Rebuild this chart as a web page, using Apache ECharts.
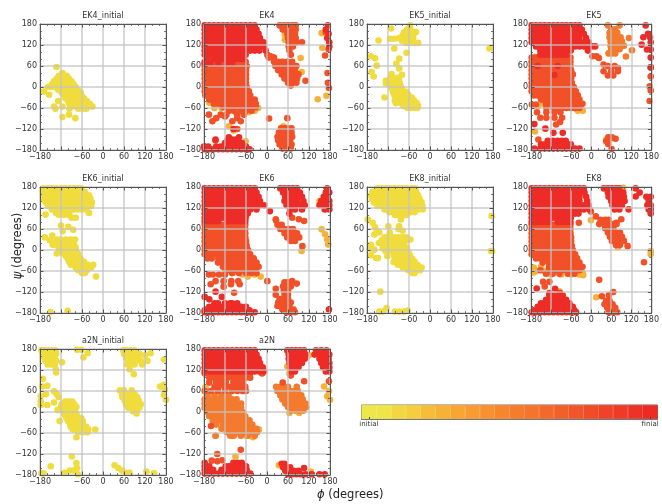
<!DOCTYPE html>
<html><head><meta charset="utf-8">
<style>html,body{margin:0;padding:0;background:#fff}#c{width:662px;height:504px}</style>
<script src="https://cdn.jsdelivr.net/npm/echarts@6/dist/echarts.min.js"></script>
</head><body><div id="c"></div>
<script>
// Every row is [psi, phi, phi, ...].
const tickValues=[-180,-120,-60,0,60,120,180];
const stageColors=['#EDE84A','#EFE646','#F2D840','#F4CE3D','#F5BE39','#F6B236','#F7A633','#F89C31','#F8902F','#F6862E','#F67C2D','#F5742C','#F3692B','#F2602A','#F15629','#F04C28','#EF4228','#EE3A27','#EE3227','#EE2A26'];

const ek4Initial=[[57,-133],[40,-116],[32,-126,-114,-104],[24,-132,-120,-108,-98],[16,-140,-128,-116,-104,-94,-90],[8,-146,-134,-122,-110,-98,-88,-84],[0,-158,-150,-136,-124,-112,-100,-88,-78],[-8,-128,-116,-104,-92,-80,-72],[-13,-169],[-16,-118,-106,-94,-82,-70,-64],[-22,-154],[-24,-110,-98,-86,-74,-62],[-32,-108,-96,-84,-72,-60,-54],[-40,-128,-100,-88,-76,-64,-52,-46],[-48,-96,-84,-72,-60,-48,-38],[-56,-140,-116,-92,-78,-66,-54,-42,-30],[-62,-136,-96,-70,-58,-48],[-79,-97],[-86,-116],[-89,-79]];
const ek5Initial=[[176,-57],[167,-111],[164,-66,-56],[157,-40],[156,-74,-64,-54,-42],[148,-78,-68,-58,-50],[140,-88,-78,-68,-58,-48],[138,-114,-102],[133,-147],[132,-80,-70,-60,-50],[126,-68,-56,-44,-34],[110,-102,170],[98,-67],[88,-169],[82,-157],[81,-88],[66,-96],[61,-152],[53,-88],[43,-167],[37,-110],[35,-80],[30,-161],[26,-112,-102,-92],[18,-126,-116,-106,-96,-88],[10,-126,-114,-104,-94,-86],[2,-112,-102,-92,-84],[-6,-108,-98,-88,-80],[-14,-106,-96,-86,-76,-68],[-22,-102,-92,-82,-72,-62],[-30,-130,-98,-88,-78,-68,-58,-52],[-38,-100,-84,-74,-64,-54,-46],[-46,-98,-84,-74,-64,-54,-44,-38],[-54,-76,-66,-56,-46,-34],[-60,-64,-54,-44,-36]];
const ek6Initial=[[176,-170,-158,-146,-134,-120,-108,-96,-84,-72,-62],[166,-172,-160,-148,-136,-124,-112,-100,-88,-76,-64,-52],[156,-170,-158,-146,-134,-122,-110,-98,-86,-74,-62,-50,-40],[146,-168,-156,-144,-132,-120,-108,-96,-84,-72,-60,-48,-36],[136,-164,-152,-140,-128,-116,-104,-92,-80,-68,-56,-44,-32],[126,-156,-144,-132,-120,-108,-96,-84,-72,-60,-48,-34],[116,-146,-134,-122,-110,-98,-84,-72,-60,-48],[106,-134,-122,-110,-96,-40],[101,-164,-126,-112,-100],[92,-90,-78],[70,-120],[66,-99],[58,-85],[54,-115],[41,-145],[36,-166],[30,-132,-120,-106,-92,-80],[28,-151],[22,-134,-122,-110,-98,-86],[15,-144],[14,-136,-124,-112,-100,-88,-82],[6,-126,-114,-102,-90,-78],[-2,-124,-112,-100,-88,-78],[-10,-132,-114,-102,-90,-78,-72],[-18,-106,-94,-82,-70],[-26,-100,-88,-76,-64],[-34,-96,-84,-72,-60,-54],[-42,-92,-80,-68,-56,-44,-28],[-50,-78,-66,-54,-42,-34],[-58,-70,-58,-46],[-66,-60,-52],[-76,-20],[-174,-101],[-177,-150]];
const ek8Initial=[[176,-150,-138,-126,-114,-102,-90,-78,-66,-52,-42],[166,-164,-152,-140,-128,-116,-104,-92,-80,-68,-56,-40],[156,-168,-156,-144,-132,-120,-108,-96,-84,-72,-60,-46,-34],[146,-166,-154,-142,-130,-118,-106,-94,-82,-70,-58,-44,-30],[136,-160,-148,-136,-124,-112,-100,-88,-76,-64,-52,-38,-24],[126,-150,-138,-126,-114,-102,-90,-78,-66,-54,-40,-22],[116,-130,-118,-106,-94,-82,-70,-58,-46,-34,-21],[108,-116,-104,-92,-80,-68,-56,-44],[100,-100,-90,-78,-68],[97,176],[87,-178,-83],[78,-164],[68,-119,-88],[65,-157],[60,-90],[55,-152,-78],[50,-145],[49,-115],[44,-159],[36,-130,-118,-104,-92,-80,-68],[30,-56],[28,-138,-126,-114,-102,-90,-76,-64],[20,-146,-134,-122,-110,-98,-86,-74],[15,-169],[6,-135,-122,-110,-98,-86,-74,-66],[4,-173],[1,-159],[-2,-128,-112,-100,-88,-76,-66],[-3,174,178],[-10,-104,-92,-80,-68,-60],[-15,-169],[-18,-122,-102,-90,-78,-66,-56],[-23,-154,-149],[-26,-98,-86,-74,-62,-50],[-34,-104,-90,-78,-66,-54,-44],[-42,-92,-80,-68,-56,-44,-36],[-50,-78,-66,-54,-42,-30,-24],[-58,-62,-50,-38,-28],[-66,-50,-44],[-119,-142],[-166,-124],[-173,-64],[-176,-145,-135,-100,-88,-75]];
const a2nInitial=[[178,-74,-62],[176,-176,-166,-156,-146,-136,58,68,78,90],[168,-44,136],[166,-172,-162,-152,-142,-134,60,72,84,96,104],[162,120],[156,-168,-158,-148,-138,-56,66,76,88,100],[150,174],[146,-164,-154,-144,-134,72,82,92,108,127],[142,-117],[136,-158,-148,-138,70,80,90,112],[122,-135,76],[113,-134],[108,88],[95,-172],[78,174],[75,-159],[73,-174,163],[64,177],[62,48,60,82],[59,-140],[52,54,66,78,90],[51,-163,-132],[49,174],[45,-178],[43,-127],[42,56,66,76,88,98],[35,180],[32,62,72,82,92,102],[30,-178,-108,-98,-88],[27,-140],[22,-118,-106,-94,-82,66,76,86,96,108],[20,-178,-159],[14,-120,-108,-96,-84,-76],[12,72,82,92,104],[6,-130,-116,-104,-92,-82],[2,86,94],[-2,-112,-100,-88,-78],[-4,96],[-10,-108,-96,-84,-74],[-18,-104,-92,-80,-70,-62],[-26,-124,-100,-88,-76,-64,-58],[-34,-94,-82,-70,-58],[-42,-92,-80,-68,-56,-48],[-50,-86,-74,-62,-50,-42,-22],[-58,-70,-56,-44],[-72,-76],[-127,-89],[-146,-76],[-152,33],[-155,-149],[-160,-74,44],[-167,-95,-84,54],[-170,124],[-174,-110,64,76],[-175,-176,-170,146],[-178,-72]];

const ek4Amber=[[150,51],[154,156],[135,51],[112,158],[83,96],[60,-82],[43,99],[30,-70],[20,-62],[-25,170],[-35,145],[-45,-165],[-60,-150,-130,-45,-25],[-68,-110,-62,-35],[-72,-90,-52],[-112,-109,47],[-124,-95],[-155,-61],[-162,-80]];
const ek4Mid=[[176,36,48,60,72,82],[164,45,58,70,82],[156,168],[152,58,70,80],[140,60,72,82],[128,62,74,86,100],[116,62,74],[108,176],[104,64],[92,68,1],[90,166],[88,10],[84,5,16,20],[72,-178,-165,-152,-139,-126,-113,-100,-87,-74,-61,20,32,44,58,72],[60,-178,-165,-152,-139,-126,-113,-100,-87,-74,-58,24,36,48,60,72,84],[48,-178,-165,-152,-139,-126,-113,-100,-87,-74,-60,32,44,56,68,80],[40,173],[36,-178,-165,-152,-139,-126,-113,-100,-87,-74,-60,42,54,66,78,90],[24,-178,-165,-152,-139,-126,-113,-100,-87,-74,-60,50,62,74,86],[18,110],[12,-178,-165,-152,-139,-126,-113,-100,-87,-74,-60,60,72,84,174],[4,68],[0,-178,-165,-152,-139,-126,-113,-100,-87,-74,-58],[-3,177],[-12,-178,-165,-152,-139,-126,-113,-100,-87,-74,-61,-52],[-24,-176,-165,-152,-139,-126,-113,-100,-87,-74,-61,-48],[-36,-165,-152,-139,-126,-113,-100,-87,-74,-61,-48,-35],[-48,-152,-139,-126,-113,-100,-87,-74,-61,-48,-32],[-58,-125,-113,-100,-87,-74,-61,-48,-32],[-68,-108,-94,-74,-60,-44],[-79,-166,-132,-116,-85,-66],[-84,-120],[-89,-145,-85,58],[-90,6],[-98,-156,-99,-75],[-118,40,50,60,70],[-120,-85],[-130,34,46,58,70],[-142,30,42,54,66,72],[-153,-147,32,42,54,66],[-164,36,46,58,70],[-176,44,56,68]];
const ek4Red=[[176,-178,-165,-152,-139,-126,-113,-100,-87,-74,-61,-48,-35,174],[164,-178,-165,-152,-139,-126,-113,-100,-87,-74,-61,-48,-35,-30,168],[152,-178,-165,-152,-139,-126,-113,-100,-87,-74,-61,-48,-35,-24,176],[140,-178,-165,-152,-139,-126,-113,-100,-87,-74,-61,-48,-35,-20,172],[128,-178,-165,-152,-139,-126,-113,-100,-87,-74,-61,-48,-35,-22,-10,178],[116,-178,-165,-152,-139,-126,-113,-100,-87,-74,-61,-48,-35,-22,-9,178],[104,-178,-165,-152,-139,-126,-113,-100,-87,-74,-61,-48,-35,-22,-4],[92,-178,-165,-152,-139,-126,-113,-100,-87,-74,-61],[80,-170,-152,-139,-126,-113,-100,-87,-74,-66],[68,-178,-162,-139,-113,-100],[-120,-96],[-144,-109,-80],[-150,-147,-112,-100,-90],[-160,-120,-108,-96,-84,-72],[-170,-180,-168,-145,-132,-120,-108,-96,-84,-72,-60],[-178,-178,-165,-152,-139,-126,-113,-100,-87,-74,-61,-50]];

const ek5Amber=[[86,-170],[70,-178],[-48,-145],[-55,-160],[-62,-45,-30],[-68,-25,-40],[-127,-168],[-150,45],[-148,58]];
const ek5Orange=[[176,50,85],[165,60,72],[155,55,68,78],[142,55,67,78,88],[140,113],[130,58,68,80,92],[118,58,70,82,98],[105,122],[108,60,72,85],[96,52,62,72],[87,104]];
const ek5Mid=[[88,4,16],[83,23],[84,-178,-165,-152,-139,-126,-113,-100,-87,-74,-62],[72,-178,-165,-152,-139,-126,-113,-100,-87,-74,-62],[64,37],[60,-178,-165,-152,-139,-126,-113,-100,-87,-74,-62,50,70],[56,178],[54,80],[48,-178,-165,-152,-139,-126,-113,-100,-87,-74,-60],[45,37,60,80],[36,-178,-165,-152,-139,-126,-113,-100,-87,-74,-60,-55],[33,50,66],[30,178],[24,-178,-165,-152,-139,-126,-113,-100,-87,-74,-60],[12,-178,-165,-152,-139,-126,-113,-100,-87,-74,-58],[2,175],[0,-178,-165,-152,-139,-126,-113,-100,-87,-74,-61,-52],[-10,178],[-12,-178,-165,-152,-139,-126,-113,-100,-87,-74,-61,-46],[-24,-172,-160,-152,-139,-126,-113,-100,-87,-74,-61,-48,-40],[-36,-150,-139,-126,-113,-100,-87,-74,-61,-48,-35],[-40,175],[-48,-135,-126,-113,-100,-87,-74,-61,-48,-35,-26],[-50,-177,-165],[-60,-134,-113,-100,-87,-74,-61,-48,-35],[-72,-162,-134,-110,-92],[-88,-152,-134,-110,-87],[-100,-93],[-107,-105],[-144,51,62],[-148,73],[-150,-158],[-155,45],[-163,51],[-177,61]];
const ek5Red=[[176,-178,-165,-152,-139,-126,-113,-100,-87,-74,-61,-48,-35,163],[164,-178,-165,-152,-139,-126,-113,-100,-87,-74,-61,-48,-35,-28],[152,-178,-165,-152,-139,-126,-113,-100,-87,-74,-61,-48,-35,-22,170],[142,156,176],[140,-178,-165,-152,-139,-126,-113,-100,-87,-74,-61,-48,-35,-15],[128,-178,-165,-152,-139,-126,-113,-100,-87,-74,-61,-48,-35,-22,-8,178],[121,151],[116,-165,-152,-139,-126,-113,-100,-87,-74,-61,-48,-35,-22,-9,2,12],[107,167,178],[104,-152,-139,-126,-113,-100,-87,-74,-61,-10],[92,-152,-139,-126,-113,-100,-87,-74],[84,178],[60,-160,-100],[56,178],[34,-110],[-106,-170],[-119,-137],[-131,-113,-85],[-154,-130,-115,-100,-88,-76],[-164,-150,-138,-126,-113,-100,-87,-74,-61],[-176,-170,-152,-139,-126,-113,-100,-87,-74,-61,-48,-35]];

const ek6Amber=[[140,150],[59,156],[45,166],[30,172,-60],[16,175],[20,-60],[-62,-120,-40],[-65,-95],[-70,-70,-36],[-76,-18,-55],[-3,99]];
const ek6Mid=[[92,72],[88,25,91],[83,106],[84,26],[72,30,42],[60,38,50,62,74],[48,50,62,74,86],[36,58,70,82,92],[26,68,80],[11,101],[72,-178,-165,-152,-139,-126,-113,-100,-87,-74,-62],[60,-178,-165,-152,-139,-126,-113,-100,-87,-74,-62],[48,-178,-165,-152,-139,-126,-113,-100,-87,-74,-62],[36,-178,-165,-152,-139,-126,-113,-100,-87,-74,-62],[24,-178,-165,-152,-139,-126,-113,-100,-87,-74,-60],[12,-178,-165,-152,-139,-126,-113,-100,-87,-74,-58],[0,-178,-165,-152,-139,-126,-113,-100,-87,-74,-61,-54],[-12,-178,-165,-152,-139,-126,-113,-100,-87,-74,-61,-48],[-24,-170,-158,-139,-126,-113,-100,-87,-74,-61,-48,-38],[-36,-140,-126,-113,-100,-87,-74,-61,-48,-35,-30],[-48,-126,-113,-100,-87,-74,-61,-48,-35,-24],[-58,-113,-100,-87,-74,-61,-48,-35],[-66,-100,-80,-60,-45,-30],[-70,-166,-155,-137,-120],[-89,-147,-124,-102,-82,1,72],[-96,85],[-98,-161,-103,-78],[-105,-124],[-92,50,60],[-104,46,58,68],[-111,25],[-116,48,60],[-122,-94],[-128,25,50,60],[-140,36,48,60],[-150,32,44,56,68],[-160,30,40,52,64],[-170,44,56,66,76],[-178,56,68,80]];
const ek6Red=[[176,-178,-165,-152,-139,-126,-113,-100,-87,-74,-61,-48,-35,38,50,62,74,86,172],[164,-178,-165,-152,-139,-126,-113,-100,-87,-74,-61,-48,-35,-30,46,58,70,82,94,168,178],[152,-178,-165,-152,-139,-126,-113,-100,-87,-74,-61,-48,-35,-24,52,64,76,88,100,162,172],[140,-178,-165,-152,-139,-126,-113,-100,-87,-74,-61,-48,-35,-20,50,62,74,86,104,155,168,178],[128,-178,-165,-152,-139,-126,-113,-100,-87,-74,-61,-48,-35,-22,-8,56,68,80,96,108,150,165,178],[116,-178,-165,-152,-139,-126,-113,-100,-87,-74,-61,-48,-30,66,80,100,165,178],[111,8],[104,-178,-165,-152,-139,-126,-113,-100,-87,-74,-61,-55,64],[92,-178,-165,-152,-139,-126,-113,-100,-87,-74,-61],[82,-178,-165,-152,-139,-113,-100,-87,-74,-62],[-119,-147],[-134,-129,-178],[-141,-165],[-152,-150,-140,-120,-105,-100,-85],[-162,-165,-152,-139,-126,-113,-100,-87,-74,-60],[-170,177],[-172,-178,-165,-152,-139,-126,-113,-100,-87,-74,-61,-50],[-178,-178,-165,-152,-139,-126,-113,-100,-87,-74,-61,-48,-35]];

const ek8Amber=[[85,-1],[8,80],[-50,-172],[-48,-150],[-60,-165,-140,-45],[-64,-172,-26],[-70,-120,-90,-60,-36],[-72,-24],[-135,15],[-118,-95],[178,96],[-3,178],[-12,178]];
const ek8Mid=[[110,-1],[96,14],[88,90],[86,28,42,52],[78,75,-37],[74,24,40,54,66,76],[62,42,54,66],[50,50,62,74,86],[38,56,68,80,92],[26,62,74,86,98],[14,74,86],[11,109],[72,-178,-165,-152,-139,-126,-113,-100,-87,-74,-62],[60,-178,-165,-152,-139,-126,-113,-100,-87,-74,-62],[48,-178,-165,-152,-139,-126,-113,-100,-87,-74,-62],[36,-178,-165,-152,-139,-126,-113,-100,-87,-74,-60],[24,-178,-165,-152,-139,-126,-113,-100,-87,-74,-60],[12,-178,-165,-152,-139,-126,-113,-100,-87,-74,-58],[0,-178,-165,-152,-139,-126,-113,-100,-87,-74,-61,-55],[-12,-178,-165,-152,-139,-126,-113,-100,-87,-74,-61,-48],[-24,-165,-152,-139,-126,-113,-100,-87,-74,-61,-48,-42],[-35,158],[-36,-145,-126,-113,-100,-87,-74,-61,-48,-35],[-48,-126,-113,-100,-87,-74,-61,-48,-35,-26],[-58,-152,-126,-113,-100,-87,-74,-61,-48,-35],[-68,-135,-115,-95,-70,-50],[-85,24],[-91,-144,-125],[-104,-139],[-129,53],[-120,66],[-132,32],[-145,45,55],[-155,40,52,64],[-165,48,60,72],[-178,52,64,78]];
const ek8Red=[[176,-178,-165,-152,-139,-126,-113,-100,-87,-74,-61,-48,-35,-22,38,50,62,74,84,133],[164,-178,-165,-152,-139,-126,-113,-100,-87,-74,-61,-48,-35,-20,50,60,72,84,96,145],[153,133],[152,-178,-165,-152,-139,-126,-113,-100,-87,-74,-61,-48,-35,-15,52,62,74,86,98,165,178],[140,-178,-165,-152,-139,-126,-113,-100,-87,-74,-61,-48,-35,-12,60,72,84,100,172],[128,-178,-165,-152,-139,-126,-113,-100,-87,-74,-61,-48,-35,-22,-8,64,76,92,168,178],[116,-178,-165,-152,-139,-126,-113,-100,-87,-74,-61,-48,-35,-22,-5,70,84,112,172,178],[104,-178,-165,-152,-139,-126,-113,-100,-87,-74,-61,-48,-38,178],[92,-178,-165,-152,-139,-126,-113,-100,-87,-74,-61],[80,-178,-165,-152,-139,-126,-100,-87,-74,-62],[-110,-163],[-111,-108],[-123,-125,-93],[-130,-125,-110,-95,-85],[-142,-135,-120,-105,-90,-75],[-152,-150,-135,-120,-105,-90,-75,-65],[-162,-160,-148,-135,-120,-105,-90,-75,-65,-55],[-172,-172,-160,-148,-135,-120,-105,-90,-75,-62,-50],[-178,-178,-165,-152,-139,-126,-113,-100,-87,-74,-61,-45]];

const a2nAmber=[[162,120],[130,58],[110,64],[73,163],[70,-176],[64,-175],[60,177],[45,172],[35,180],[30,-175],[-3,64,92],[-50,-23],[-68,-147,-100,-60],[-72,-40],[-127,-90],[-152,34],[-170,125]];
const a2nOrange=[[72,26,38,50,60,85],[60,30,42,54,66,78,88],[48,-170,-150,-130,-110,38,50,62,74,86,98],[36,-178,-165,-152,-139,-126,-113,-100,-87,44,56,68,80,92,102],[24,-178,-165,-152,-139,-126,-113,-100,-87,-74,52,64,76,88,100,110],[14,60,72,84,96,112],[12,-178,-165,-152,-139,-126,-113,-100,-87,-74],[4,68,80,92,104],[0,-170,-157,-144,-131,-118,-105,-92,-79,-70],[-12,-165,-152,-139,-126,-113,-100,-87,-74,-62],[-24,-155,-139,-126,-113,-100,-87,-74,-61,-50],[-36,-145,-126,-113,-100,-87,-74,-61,-48,-42],[-48,-130,-113,-100,-87,-74,-61,-48,-35,-30],[-58,-115,-100,-87,-74,-61,-48,-35,-28],[-68,-147,-105,-95,-75,-55,-35]];
const a2nMid=[[110,-178,-165,-152,-139,-126,-113,-100,-87,-74,-61,-48,-14],[104,68],[98,-165,-152,-139,-126,-113,-100,-87,-74,-61,-48],[88,106,177],[84,-165,-145,-132,-118,-96,-84,-70,45],[72,-150,-138,-120,-105,-90,-76,-62],[60,-178,-160,-140,-120,-100,-85,-70,-60],[-40,-160],[-108,-75],[-120,-142],[-139,-158],[-141,-142],[-138,-128]];
const a2nRed=[[176,-178,-165,-152,-139,-126,-113,-100,-87,-74,-61,-48,-35,58,70,82,94,106,140,155,170],[164,-178,-165,-152,-139,-126,-113,-100,-87,-74,-61,-48,-35,-30,62,74,86,98,110,136,150,165,178],[152,-178,-165,-152,-139,-126,-113,-100,-87,-74,-61,-48,-35,-24,62,74,86,98,108,150,163,176],[140,-178,-165,-152,-139,-126,-113,-100,-87,-74,-61,-48,-35,-20,64,76,88,100,155,168,178],[128,-178,-165,-152,-139,-126,-113,-100,-87,-74,-61,-48,-35,-22,-12,66,78,90,160,172,178],[116,-178,-165,-152,-139,-126,-113,-100,-87,-74,-61,-48,-35,-22,-8,68,80,168,178],[-145,-178,-96,-84,-72],[-148,42,50],[-155,-178,-165,-118,-108,-96,-84,-72,-60],[-158,46,56,66],[-160,106],[-165,-178,-166,-154,-130,-118,-106,-94,-82,-70,-58],[-168,52,64,76,90],[-176,-178,-165,-152,-139,-126,-113,-100,-87,-74,-61,-48],[-178,60,72,84,96,110,128,150,165]];

const yellow='#F0DC3C', amber='#F6B236', orange='#F47A2D', mid='#F15028', red='#EE2C27';
const panels=[
 {name:'EK4_initial',col:0,row:0,layers:[[ek4Initial,yellow]]},
 {name:'EK4',col:1,row:0,layers:[[ek4Amber,amber],[ek4Mid,mid],[ek4Red,red]]},
 {name:'EK5_initial',col:2,row:0,layers:[[ek5Initial,yellow]]},
 {name:'EK5',col:3,row:0,layers:[[ek5Amber,amber],[ek5Orange,orange],[ek5Mid,mid],[ek5Red,red]]},
 {name:'EK6_initial',col:0,row:1,layers:[[ek6Initial,yellow]]},
 {name:'EK6',col:1,row:1,layers:[[ek6Amber,amber],[ek6Mid,mid],[ek6Red,red]]},
 {name:'EK8_initial',col:2,row:1,layers:[[ek8Initial,yellow]]},
 {name:'EK8',col:3,row:1,layers:[[ek8Amber,amber],[ek8Mid,mid],[ek8Red,red]]},
 {name:'a2N_initial',col:0,row:2,layers:[[a2nInitial,yellow]]},
 {name:'a2N',col:1,row:2,layers:[[a2nAmber,amber],[a2nOrange,orange],[a2nMid,mid],[a2nRed,red]]}
];
const colLeft=[40,204,367,531], rowTop=[24,187,349], panelSize=126;
const font='"DejaVu Sans"';
const frame='#555';
const expand=rows=>rows.flatMap(r=>r.slice(1).map(phi=>[phi,r[0]]));
const lab=v=>String(v).replace('-','\u2212');
const grids=[],xAxes=[],yAxes=[],series=[],titles=[];
function axis(gi,pos,showLabel,isX){
 return {type:'value',gridIndex:gi,position:pos,min:-180,max:180,interval:60,z:5,
  axisLine:{show:true,onZero:false,lineStyle:{color:frame,width:1}},
  axisTick:{show:true,inside:true,length:3.5,lineStyle:{color:frame,width:1}},
  minorTick:{show:true,splitNumber:3,length:2,lineStyle:{color:frame,width:.8}},
  axisLabel:{show:showLabel,formatter:lab,fontFamily:font,fontSize:8,color:'#333',margin:3,hideOverlap:false,showMinLabel:true,showMaxLabel:true},
  splitLine:{show:showLabel,lineStyle:{color:'rgba(195,195,195,0.85)',width:1.5}}};
}
panels.forEach((p,i)=>{
 const left=colLeft[p.col],top=rowTop[p.row];
 grids.push({left,top,width:panelSize,height:panelSize,containLabel:false});
 xAxes.push(axis(i,'bottom',true,true),axis(i,'top',false,true));
 yAxes.push(axis(i,'left',true,false),axis(i,'right',false,false));
 titles.push({text:p.name,left:left+panelSize/2,top:top-12,padding:0,textAlign:'center',textStyle:{fontFamily:font,fontSize:8,fontWeight:'normal',color:'#333'}});
 p.layers.forEach(([rows,color])=>series.push({type:'scatter',xAxisIndex:i*2,yAxisIndex:i*2,data:expand(rows),symbolSize:6.6,z:2,clip:true,silent:true,itemStyle:{color,opacity:1}}));
});
// colour bar
const barGrid=grids.length;
grids.push({left:361.5,top:405,width:296,height:14,show:true,borderColor:'#777',borderWidth:1,backgroundColor:'transparent'});
const stageNames=stageColors.map((c,i)=>i===0?'initial':i===stageColors.length-1?'finial':'');
xAxes.push({type:'category',gridIndex:barGrid,data:stageNames,position:'bottom',z:5,
 axisLine:{show:true,lineStyle:{color:'#777'}},
 axisTick:{show:true,inside:true,length:2,alignWithLabel:true,interval:(i)=>i===0||i===stageColors.length-1,lineStyle:{color:'#444'}},
 axisLabel:{interval:0,fontFamily:font,fontSize:7,color:'#333',margin:2},splitLine:{show:false}});
yAxes.push({type:'value',gridIndex:barGrid,min:0,max:1,show:false});
series.push({type:'bar',xAxisIndex:xAxes.length-1,yAxisIndex:yAxes.length-1,barWidth:'100%',silent:true,
 data:stageColors.map(c=>({value:1,itemStyle:{color:c,borderColor:c,borderWidth:.6}}))});

const chart=echarts.init(document.getElementById('c'),null,{renderer:'canvas'});
chart.setOption({animation:false,backgroundColor:'#fff',title:titles,grid:grids,xAxis:xAxes,yAxis:yAxes,series,
 graphic:[
  {type:'text',left:317,top:489,style:{text:'{i|\u03d5} (degrees)',fontFamily:font,fontSize:11.5,fill:'#222',rich:{i:{fontStyle:'italic',fontFamily:font,fontSize:11.5,fill:'#222'}}}},
  {type:'text',x:18,y:246,rotation:Math.PI/2,style:{text:'{i|\u03c8} (degrees)',align:'center',verticalAlign:'middle',fontFamily:font,fontSize:11.5,fill:'#222',rich:{i:{fontStyle:'italic',fontFamily:font,fontSize:11.5,fill:'#222'}}}}
 ]});
</script></body></html>
